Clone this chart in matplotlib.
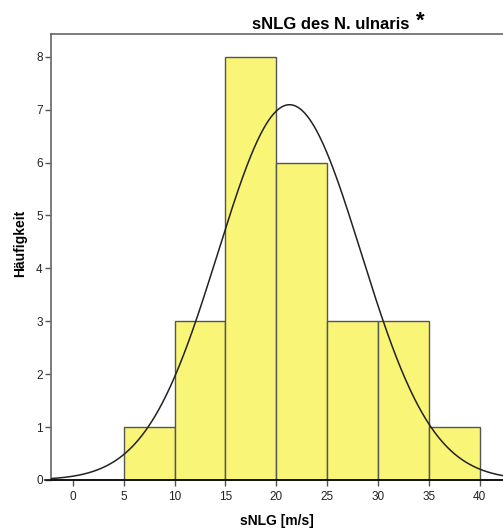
import numpy as np
import matplotlib.pyplot as plt

plt.rcParams['font.family']=['Liberation Sans','DejaVu Sans']

# histogram data
bin_edges=[5,10,15,20,25,30,35,40]
counts=[1,3,8,6,3,3,1]
# fitted normal curve parameters
mean_val=21.3
sd_val=7.03
n_total=sum(counts)
bin_width=5
x_ticks=[0,5,10,15,20,25,30,35,40]
y_ticks=[0,1,2,3,4,5,6,7,8]

fig=plt.figure(figsize=(5.03,5.31),dpi=100)
ax=fig.add_axes([51/503,51/531,452/503,446/531])

lefts=np.array(bin_edges[:-1])
ax.bar(lefts,counts,width=np.diff(bin_edges),align='edge',
       color='#F9F577',edgecolor='#555555',linewidth=1.0,zorder=2)

xmin,xmax=-2.16,42.3
xs=np.linspace(xmin,xmax,400)
ys=n_total*bin_width/(sd_val*np.sqrt(2*np.pi))*np.exp(-0.5*((xs-mean_val)/sd_val)**2)
ax.plot(xs,ys,color='#222222',linewidth=1.1,zorder=3)

ax.set_xlim(xmin,xmax)
ax.set_ylim(0,8.43)
ax.set_xticks(x_ticks)
ax.set_yticks(y_ticks)
ax.tick_params(axis='both',labelsize=8.5,length=4,width=1,pad=2)
ax.tick_params(axis='x',colors='#555555',labelcolor='#222222',pad=4)
ax.tick_params(axis='y',colors='#555555',labelcolor='#222222')

for side in ['top','left']:
    ax.spines[side].set_color('#666666')
    ax.spines[side].set_linewidth(1.2)
ax.spines['right'].set_visible(False)
ax.spines['bottom'].set_color('#111111')
ax.spines['bottom'].set_linewidth(1.2)
ax.axhline(0,xmin=-0.014,xmax=1,color='#111111',linewidth=1.2,clip_on=False,zorder=4)

ax.set_xlabel('sNLG [m/s]',fontsize=10,fontweight='bold',labelpad=8)
ax.set_ylabel('Häufigkeit',fontsize=10,fontweight='bold')
ax.yaxis.set_label_coords(-24/452,0.53)

fig.text(252/503,1-29/531,'sNLG des N. ulnaris',fontsize=12,fontweight='bold',
         ha='left',va='baseline')
fig.text(416/503,1-27/531,'*',fontsize=16,fontweight='bold',ha='left',va='baseline')

plt.savefig('out.png',dpi=100)
